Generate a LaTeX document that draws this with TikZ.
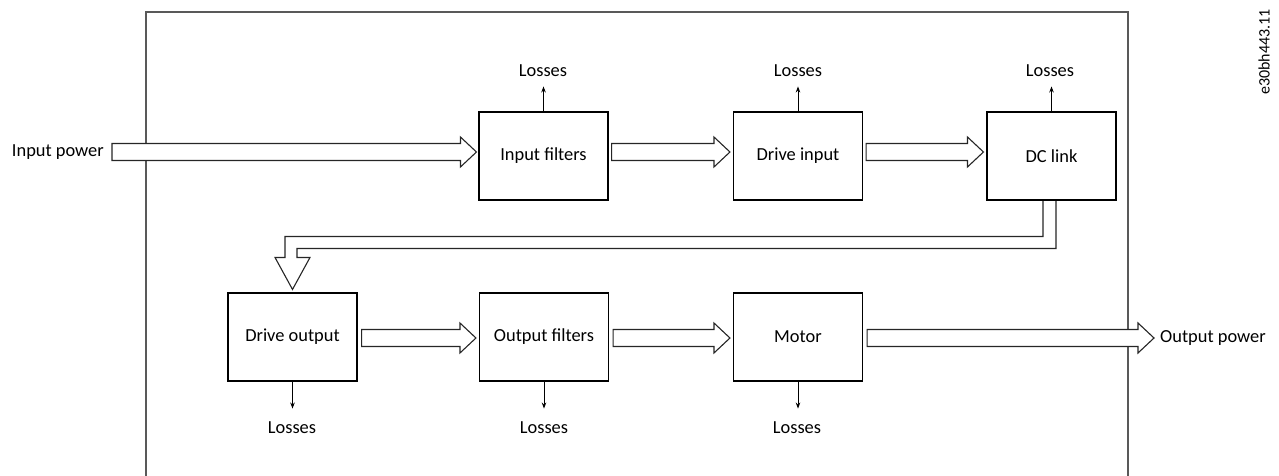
\documentclass[tikz,border=0pt]{standalone}
\usepackage{fontspec}
\setmainfont{Carlito}
\usetikzlibrary{calc,arrows.meta}
\tikzset{
  blk/.style={draw=black, line width=1.1pt, minimum width=129pt, minimum height=88pt, inner sep=0pt, font=\fontsize{18.4}{22}\selectfont},
  lbl/.style={inner sep=0pt, font=\fontsize{18.4}{22}\selectfont},
  fat/.style={draw=black!85, line width=1.1pt, fill=white, line join=miter},
  loss/.style={draw=black, line width=0.9pt, -{Stealth[length=6pt,width=4.5pt]}},
  frame/.style={draw=black!65, line width=1.5pt}
}
\newcommand\fatarr[2]{%
  \draw[fat] let \p1=#1, \p2=#2 in
    (\x1,\y1+8.5pt) -- (\x2-16pt,\y1+8.5pt) -- (\x2-16pt,\y1+15pt) -- (\x2,\y1)
    -- (\x2-16pt,\y1-15pt) -- (\x2-16pt,\y1-8.5pt) -- (\x1,\y1-8.5pt) -- cycle;}
\begin{document}
\begin{tikzpicture}[x=1pt,y=-1pt]
\useasboundingbox (0,0) rectangle (1279,476);
\clip (0,0) rectangle (1279,476);
\draw[frame] (146,500) -- (146,12) -- (1128,12) -- (1128,500);

% boxes
\node[blk] (fi) at (543.5,156) {Input filters};
\node[blk] (di) at (798,156) {Drive input};
\node[blk] (dc) at (1051.5,156) {DC link};
\node[blk] (do) at (292.5,337) {Drive output};
\node[blk] (fo) at (544,337) {Output filters};
\node[blk] (mo) at (798,337) {Motor};

% input / output labels
\node[lbl, anchor=east] (ipl) at (104,152) {Input power};
\node[lbl, anchor=west] (opl) at (1160,338) {Output power};
\node[inner sep=0pt, rotate=90, font=\fontsize{16}{18}\selectfont] (code) at (1264,52) {e30bh443.11};

% losses labels
\node[lbl, anchor=base] (l1) at (543,77) {Losses};
\node[lbl, anchor=base] (l2) at (798,77) {Losses};
\node[lbl, anchor=base] (l3) at (1050,77) {Losses};
\node[lbl, anchor=base] (l4) at (292,433) {Losses};
\node[lbl, anchor=base] (l5) at (544,433) {Losses};
\node[lbl, anchor=base] (l6) at (797,433) {Losses};

% losses arrows
\draw[loss] (fi.north) -- ++(0,-25);
\draw[loss] (di.north) -- ++(0,-25);
\draw[loss] (dc.north) -- ++(0,-25);
\draw[loss] (do.south) -- ++(0,27);
\draw[loss] (fo.south) -- ++(0,27);
\draw[loss] (mo.south) -- ++(0,27);

% fat arrows, top row
\fatarr{($(ipl.east)+(8,0)$)}{($(fi.west)+(-2,-4)$)}
\fatarr{($(fi.east)+(3,-4)$)}{($(di.west)+(-3,-4)$)}
\fatarr{($(di.east)+(3,-4)$)}{($(dc.west)+(-3,-4)$)}
% bottom row
\fatarr{($(do.east)+(4,1)$)}{($(fo.west)+(-3,1)$)}
\fatarr{($(fo.east)+(4,1)$)}{($(mo.west)+(-3,1)$)}
\fatarr{($(mo.east)+(4,1)$)}{($(opl.west)+(-6,0)$)}

% DC link to drive output
\draw[fat] let \p1=(dc.south), \p2=(do.north) in
  (\x1-8.5pt,\y1) -- (\x1-8.5pt,\y2+56pt) -- (\x2-7.5pt,\y2+56pt) -- (\x2-7.5pt,\y2+35pt)
  -- (\x2-17.5pt,\y2+35pt) -- (\x2,\y2+3pt) -- (\x2+17.5pt,\y2+35pt) -- (\x2+4.5pt,\y2+35pt)
  -- (\x2+4.5pt,\y2+44pt) -- (\x1+4.5pt,\y2+44pt) -- (\x1+4.5pt,\y1);
\draw[black, line width=1.1pt] (dc.south west) -- (dc.south east);
\end{tikzpicture}
\end{document}
